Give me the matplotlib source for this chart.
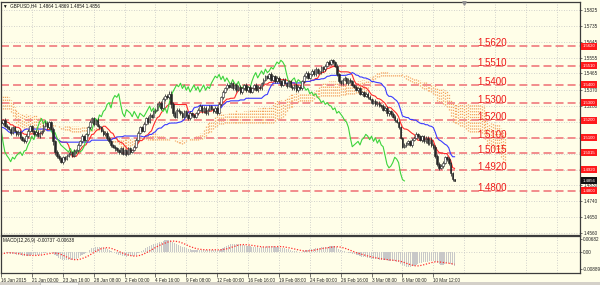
import numpy as np
import pandas as pd
import matplotlib
matplotlib.use("Agg")
import matplotlib.pyplot as plt
from matplotlib.patches import Rectangle
from matplotlib.transforms import blended_transform_factory

plt.rcParams["font.family"] = ["Liberation Sans", "DejaVu Sans"]

# ---------------- data (prices in 1e-4 units) ----------------
FIRST_OPEN = 15370
# history before the visible window (used only by the indicators)
PRE_CLOSE = [15380, 15400, 15390, 15410, 15420, 15400, 15390, 15410, 15425, 15415,
             15400, 15385, 15400, 15415, 15430, 15410, 15395, 15405, 15420, 15400, 15390,
             15370, 15350, 15330, 15310, 15300, 15280, 15290, 15270, 15260, 15280, 15270, 15290,
             15280, 15270, 15290, 15300, 15280, 15260, 15270, 15290, 15280, 15260, 15250, 15270,
             15260, 15280, 15270, 15250, 15260, 15240, 15250, 15260, 15280, 15270, 15250, 15230,
             15200, 15160, 15120, 15080, 15060, 15040, 15050, 15070, 15100, 15130, 15150, 15170,
             15190, 15210, 15200, 15180, 15190, 15210, 15220, 15200, 15190]
PRE_UW = [8, 6, 10, 5, 7, 12, 6, 9, 5, 8,
          10, 6, 7, 9, 12, 8, 6, 5, 9, 7,
          10, 15, 12, 10, 8, 9, 7, 11, 6, 8,
          9, 7, 10, 8, 6, 9, 7, 10, 12, 8,
          6, 9, 11, 7, 8, 10, 7, 9, 6, 8,
          7, 10, 9, 6, 8, 7, 9, 8, 6, 10,
          7, 9, 8, 6, 9, 7, 10, 8, 6, 9,
          7, 8, 10, 6, 8, 7, 9, 6]
PRE_LW = [7, 9, 6, 8, 10, 7, 9, 6, 8, 7,
          9, 8, 6, 10, 7, 9, 8, 6, 7, 9,
          8, 10, 12, 9, 11, 8, 10, 7, 9, 8,
          10, 9, 7, 8, 12, 9, 8, 7, 10, 9,
          8, 7, 9, 10, 8, 7, 9, 8, 10, 7,
          9, 8, 7, 10, 9, 8, 7, 9, 8, 10,
          8, 9, 7, 10, 8, 9, 7, 8, 10, 9,
          8, 7, 9, 8, 10, 7, 9, 8]

# visible H4 bars, 16 Jan 2015 -> 12 Mar 2015
CLOSE = [15185, 15200, 15170, 15160,
         15150, 15130, 15160, 15140, 15120, 15135,
         15105, 15090, 15080,
         15110, 15140, 15165, 15140,
         15120, 15135, 15110, 15125, 15140,
         15170, 15185, 15160, 15190, 15150,
         15080, 15020,
         15000, 14985, 14965, 14990, 14980, 15000,
         15010, 15020, 15000, 15025, 15030,
         15060, 15080, 15110, 15090, 15120, 15160,
         15190, 15210, 15180, 15200, 15170,
         15160, 15140, 15120, 15130, 15100,
         15080, 15060, 15050, 15040, 15030, 15020, 15040, 15010,
         15030, 15010, 15040, 15020, 15030, 15050,
         15090, 15130, 15160, 15140,
         15180, 15210, 15190, 15230, 15220, 15250,
         15260, 15290, 15300, 15270, 15320, 15340, 15330, 15350,
         15290, 15240, 15220, 15260, 15250,
         15240, 15220, 15250, 15230, 15210, 15240, 15230, 15220, 15240,
         15260, 15280, 15250, 15270, 15240, 15260, 15280, 15265,
         15250, 15270, 15240,
         15290, 15330, 15360, 15380,
         15400, 15390, 15410, 15380, 15400, 15370, 15390, 15360,
         15380, 15400, 15370, 15390, 15360, 15380, 15400, 15370, 15390,
         15380, 15410, 15430, 15450,
         15440, 15460, 15430, 15450, 15420, 15440,
         15420, 15400, 15430, 15410, 15395, 15420,
         15390, 15380, 15400, 15370, 15390, 15380,
         15420, 15450, 15470, 15440, 15460,
         15480, 15460, 15490, 15470, 15480, 15500, 15490,
         15510, 15530, 15520, 15540, 15530, 15510,
         15460, 15420, 15410,
         15430, 15440, 15410, 15430, 15420, 15400,
         15390, 15370, 15380, 15350, 15360, 15340, 15350, 15330,
         15320, 15300, 15310, 15290, 15300, 15285,
         15280, 15260, 15270, 15240, 15250, 15235,
         15220, 15200, 15190, 15160,
         15100, 15050, 15060,
         15070, 15080, 15060, 15090,
         15100, 15120, 15110,
         15090, 15110, 15080, 15100, 15070, 15090, 15060, 15050,
         15000, 14950, 14930, 14940,
         14960, 14990, 14980, 14960, 14900, 14864, 14856]
UW = [9, 7, 10, 6, 8, 12, 7, 9, 6, 10,
      8, 7, 9, 11, 8, 6, 10, 7, 9, 8,
      12, 7, 10, 8, 9, 6, 8, 14, 10, 12,
      8, 9, 7, 10, 6, 9, 8, 7, 11, 8,
      10, 9, 12, 7, 10, 8, 9, 11, 7, 8,
      10, 9, 6, 8, 7, 9, 10, 8, 6, 9,
      7, 8, 10, 6, 9, 7, 8, 11, 9, 12,
      10, 8, 9, 7, 10, 8, 12, 9, 7, 8,
      10, 9, 11, 8, 12, 10, 7, 15, 18, 12,
      10, 9, 8, 7, 10, 8, 9, 6, 10, 8,
      7, 9, 8, 11, 7, 9, 10, 8, 6, 9,
      7, 10, 8, 12, 9, 11, 8, 10, 7, 9,
      8, 6, 10, 8, 7, 9, 8, 10, 6, 9,
      8, 7, 10, 9, 12, 8, 10, 7, 9, 8,
      11, 7, 9, 8, 10, 6, 8, 9, 7, 10,
      8, 9, 7, 11, 8, 10, 9, 12, 8, 10,
      9, 13, 10, 12, 9, 8, 10, 7, 9, 8,
      10, 9, 7, 8, 10, 9, 6, 8, 9, 7,
      10, 8, 9, 7, 8, 10, 9, 7, 8, 9,
      10, 12, 8, 9, 10, 7, 8, 9, 10, 8,
      9, 10, 8, 12, 9, 10, 8, 9, 7, 10,
      8, 9, 10, 11, 9, 12, 10, 8, 9, 7,
      10, 8, 9, 14, 9, 10, 8, 12, 10, 9,
      8, 10, 9, 6, 8, 5]
LW = [8, 10, 7, 9, 6, 11, 8, 7, 10, 9,
      12, 8, 7, 9, 10, 8, 6, 9, 8, 7,
      9, 8, 10, 7, 9, 8, 6, 20, 15, 12,
      10, 8, 12, 9, 7, 10, 8, 9, 7, 8,
      9, 7, 10, 8, 6, 9, 8, 7, 10, 8,
      9, 10, 8, 7, 9, 11, 8, 10, 9, 12,
      8, 10, 9, 7, 8, 10, 9, 12, 8, 7,
      9, 8, 10, 7, 9, 8, 10, 7, 9, 8,
      7, 9, 8, 10, 7, 9, 8, 12, 20, 15,
      9, 10, 8, 12, 9, 7, 10, 8, 9, 11,
      8, 9, 10, 7, 9, 8, 10, 9, 8, 7,
      9, 8, 10, 7, 8, 9, 7, 10, 8, 9,
      10, 8, 9, 7, 11, 9, 8, 10, 9, 7,
      8, 9, 7, 10, 8, 9, 10, 8, 7, 9,
      8, 10, 9, 7, 9, 11, 8, 7, 10, 9,
      8, 7, 9, 10, 8, 9, 7, 8, 10, 9,
      7, 9, 8, 10, 9, 7, 20, 15, 12, 10,
      9, 8, 10, 7, 9, 8, 10, 9, 8, 7,
      9, 10, 8, 9, 7, 10, 8, 9, 10, 8,
      9, 8, 10, 9, 7, 12, 10, 9, 8, 10,
      15, 18, 12, 10, 9, 8, 10, 7, 9, 8,
      10, 9, 8, 10, 9, 7, 10, 8, 12, 10,
      9, 11, 8, 10, 12, 15, 10, 12, 9, 10,
      8, 10, 12, 15, 10, 2]

LEVELS = [1.5620, 1.5510, 1.5400, 1.5300, 1.5200, 1.5100, 1.5015, 1.4920, 1.4800]
LEVEL_LABELS = ["1.5620", "1.5510", "1.5400", "1.5300", "1.5200", "1.5100", "1.5015", "1.4920", "1.4800"]
PRICE_TICKS = [1.5825, 1.5735, 1.5645, 1.5555, 1.5465, 1.5370, 1.5280, 1.5190,
               1.5100, 1.5010, 1.4920, 1.4830, 1.4740, 1.4650, 1.4560]
PRICE_TICK_LABELS = ["1.5825", "1.5735", "1.5645", "1.5555", "1.5465", "1.5370", "1.5280", "",
                     "", "", "", "1.4830", "1.4740", "1.4650", "1.4560"]
TIME_LABELS = ["16 Jan 2015", "21 Jan 00:00", "23 Jan 16:00", "28 Jan 08:00", "2 Feb 00:00",
               "4 Feb 16:00", "9 Feb 08:00", "12 Feb 00:00", "16 Feb 16:00", "19 Feb 08:00",
               "24 Feb 00:00", "26 Feb 16:00", "3 Mar 08:00", "6 Mar 00:00", "10 Mar 12:00"]
CURRENT = 1.4856
HEADER = "GBPUSD,H4  1.4864 1.4869 1.4854 1.4856"
MACD_TITLE = "MACD(12,26,9) -0.00737 -0.00638"
MACD_TICKS = [0.00682, 0.0, -0.00889]
MACD_TICK_LABELS = ["0.00682", "0.00", "-0.00889"]

assert len(PRE_CLOSE) == len(PRE_UW) == len(PRE_LW)
assert len(CLOSE) == len(UW) == len(LW), (len(CLOSE), len(UW), len(LW))

# ---------------- derived series ----------------
close = np.array(PRE_CLOSE + CLOSE, dtype=float) / 1e4
opn = np.concatenate([[FIRST_OPEN / 1e4], close[:-1]])
high = np.maximum(opn, close) + np.array(PRE_UW + UW) / 1e4
low = np.minimum(opn, close) - np.array(PRE_LW + LW) / 1e4
npre = len(PRE_CLOSE)
idx = np.arange(len(close)) - npre

sh, sl, sc = pd.Series(high), pd.Series(low), pd.Series(close)
tenkan = ((sh.rolling(9).max() + sl.rolling(9).min()) / 2).to_numpy()
kijun = ((sh.rolling(26).max() + sl.rolling(26).min()) / 2).to_numpy()
spanA = (tenkan + kijun) / 2
spanB = ((sh.rolling(52).max() + sl.rolling(52).min()) / 2).to_numpy()
ema12 = sc.ewm(span=12, adjust=False).mean()
ema26 = sc.ewm(span=26, adjust=False).mean()
macd = (ema12 - ema26).to_numpy()
signal = pd.Series(macd).rolling(9).mean().to_numpy()

# ---------------- style ----------------
BG = "#FFFEE8"
GRID = "#C4C4C4"
FRAME = "#3C3C3C"
SMALL = 3.3
W, H = 600, 285
fig = plt.figure(figsize=(6.0, 2.85), dpi=100)
fig.patch.set_facecolor(BG)

XMIN, XMAX = 0, 300
ax = fig.add_axes([1 / W, 1 - 235 / H, 579 / W, 233 / H])
ax2 = fig.add_axes([1 / W, 1 - 273 / H, 579 / W, 37 / H])
for a in (ax, ax2):
    a.set_facecolor(BG)
    a.set_xlim(XMIN, XMAX)
    for s in a.spines.values():
        s.set_color(FRAME)
        s.set_linewidth(0.9)
    a.yaxis.tick_right()
    a.tick_params(axis="y", labelsize=SMALL, length=1.5, width=0.5, pad=0.8,
                  colors=FRAME, labelcolor="#222222")
    for k in range(0, XMAX, 16):
        a.axvline(k, color=GRID, lw=0.6, ls=(0, (1, 2)), zorder=0)

# main panel
ax.set_ylim(1.45493, 1.58704)
ax.set_yticks(PRICE_TICKS)
ax.set_yticklabels(PRICE_TICK_LABELS)
ax.set_xticks([])
for t in PRICE_TICKS:
    ax.axhline(t, color=GRID, lw=0.6, ls=(0, (1, 2)), zorder=0)

# Ichimoku cloud (dotted histogram between the spans, shifted 26 bars ahead)
xc = idx + 26
m = (xc >= 0) & ~np.isnan(spanA) & ~np.isnan(spanB)
ax.vlines(xc[m], np.minimum(spanA[m], spanB[m]), np.maximum(spanA[m], spanB[m]),
          colors="#F4A460", linestyles=(0, (1, 1.3)), linewidth=0.9, zorder=1)

# level lines
for lv, lab in zip(LEVELS, LEVEL_LABELS):
    ax.axhline(lv, color="#F28C8C", lw=1.4, ls=(0, (4.1, 2.1)), zorder=1.5)
    ax.text(247, lv, lab, color="#EE1A1A", fontsize=7.0,
            ha="left", va="baseline", zorder=6)

# Tenkan / Kijun / Chikou
vis = idx >= 0
ax.plot(idx[vis], tenkan[vis], color="#FF2A2A", lw=0.8, zorder=2)
ax.plot(idx[vis], kijun[vis], color="#3A3AFF", lw=0.8, zorder=2)
xch = idx - 26
mch = (xch >= 0)
ax.plot(xch[mch], close[mch], color="#3CD43C", lw=0.8, zorder=2)

# candles
xv = idx[vis]
ov, hv, lv_, cv = opn[vis], high[vis], low[vis], close[vis]
ax.vlines(xv, lv_, hv, colors="#262626", linewidth=0.55, zorder=3)
bull = cv >= ov
ax.bar(xv[bull], np.maximum(cv[bull] - ov[bull], 0.00008), bottom=ov[bull], width=0.8,
       facecolor="white", edgecolor="#262626", linewidth=0.4, zorder=4)
ax.bar(xv[~bull], np.maximum(ov[~bull] - cv[~bull], 0.00008), bottom=cv[~bull], width=0.8,
       facecolor="#262626", edgecolor="#262626", linewidth=0.4, zorder=4)

# right-side boxes for the levels and the current price
tr = blended_transform_factory(ax.transAxes, ax.transData)
for lv, lab in zip(LEVELS, LEVEL_LABELS):
    ax.text(1.0045, lv, lab, transform=tr, fontsize=3.1, color="white", ha="left", va="center",
            bbox=dict(boxstyle="square,pad=0.35", fc="#FF1A1A", ec="none"), zorder=10, clip_on=False)
ax.text(1.0045, CURRENT, f"{CURRENT:.4f}", transform=tr, fontsize=3.1, color="white", ha="left",
        va="center", bbox=dict(boxstyle="square,pad=0.35", fc="#111111", ec="none"),
        zorder=10, clip_on=False)
# chart shift marker
ax.plot([240], [1.5866], marker="v", ms=2.5, color="#909090", clip_on=False, zorder=7)

# MACD panel
ax2.set_ylim(-0.01098, 0.00839)
ax2.axhline(0, color=GRID, lw=0.6, ls=(0, (1, 2)), zorder=0)
ax2.bar(idx[vis], macd[vis], width=0.6, color="#C8C8C8", zorder=1)
ax2.plot(idx[vis], signal[vis], color="#FF3030", lw=0.9, ls=(0, (1, 1.3)), zorder=2)
ax2.set_yticks(MACD_TICKS)
ax2.set_yticklabels(MACD_TICK_LABELS)
ax2.set_xticks([16 * k for k in range(len(TIME_LABELS))])
ax2.set_xticklabels(TIME_LABELS)
ax2.tick_params(axis="x", labelsize=SMALL, length=3, width=0.5, pad=0.6, colors=FRAME,
                labelcolor="#222222")
for lbl in ax2.get_xticklabels():
    lbl.set_ha("left")

# header texts
fig.text(3 / W, 1 - 6 / H, "\u25bc  " + HEADER, fontsize=SMALL, color="#111111", va="center", ha="left")
fig.text(3 / W, 1 - 240.5 / H, MACD_TITLE, fontsize=SMALL, color="#111111", va="center", ha="left")

# bottom tab strip
fig.patches.append(Rectangle((0, 0), 1, 3.5 / H, transform=fig.transFigure,
                             facecolor="#D4D0C8", edgecolor="none"))
fig.patches.append(Rectangle((40 / W, 0), 38 / W, 3.5 / H, transform=fig.transFigure,
                             facecolor="#F2F1EC", edgecolor="#A0A0A0", lw=0.4))

fig.savefig("out.png", dpi=100, facecolor=BG)
